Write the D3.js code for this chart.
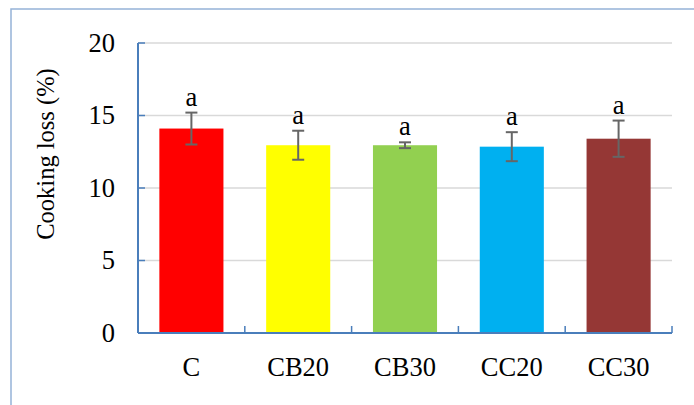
<!DOCTYPE html>
<html>
<head>
<meta charset="utf-8">
<script src="https://cdn.jsdelivr.net/npm/d3@7"></script>
<style>
  html, body { margin: 0; padding: 0; background: #fff; }
  svg { display: block; }
  text { font-family: "Liberation Serif", "DejaVu Serif", serif; fill: #000; }
</style>
</head>
<body>
<svg id="chart" width="694" height="405"></svg>
<script>
// Cooking loss per treatment (mean and standard deviation, %)
const categories = ["C", "CB20", "CB30", "CC20", "CC30"];
const values = [14.1, 12.95, 12.95, 12.85, 13.4];
const errors = [1.1, 1.0, 0.2, 1.0, 1.25];
const letters = ["a", "a", "a", "a", "a"];
const colors = ["#FF0000", "#FFFF00", "#92D050", "#00B0F0", "#953735"];
const yTicks = [0, 5, 10, 15, 20];
const yTitle = "Cooking loss (%)";

const svg = d3.select("#chart");
const plot = { left: 138, right: 672, top: 43, bottom: 333 };
const fontSize = 26.5, titleSize = 24.5;

// outer chart frame
svg.append("rect")
  .attr("x", 11).attr("y", 9).attr("width", 720).attr("height", 420)
  .attr("fill", "none").attr("stroke", "#95b3d7").attr("stroke-width", 1.5);

const xb = d3.scaleBand().domain(categories).range([plot.left, plot.right]);
const y = d3.scaleLinear().domain([0, 20]).range([plot.bottom, plot.top]);

// gridlines
svg.append("g").selectAll("line").data(yTicks.filter(t => t > 0)).join("line")
  .attr("x1", plot.left).attr("x2", plot.right)
  .attr("y1", d => y(d)).attr("y2", d => y(d))
  .attr("stroke", "#d9d9d9").attr("stroke-width", 1.5);

// bars
const bw = xb.bandwidth() * 0.6;
svg.append("g").selectAll("rect").data(categories).join("rect")
  .attr("x", (d) => xb(d) + (xb.bandwidth() - bw) / 2)
  .attr("width", bw)
  .attr("y", (d, i) => y(values[i]))
  .attr("height", (d, i) => y(0) - y(values[i]))
  .attr("fill", (d, i) => colors[i]);

// error bars
const eg = svg.append("g").attr("stroke", "#666").attr("stroke-width", 2);
categories.forEach((c, i) => {
  const cx = xb(c) + xb.bandwidth() / 2;
  const hi = y(values[i] + errors[i]), lo = y(values[i] - errors[i]);
  eg.append("line").attr("x1", cx).attr("x2", cx).attr("y1", hi).attr("y2", lo);
  eg.append("line").attr("x1", cx - 6).attr("x2", cx + 6).attr("y1", hi).attr("y2", hi);
  eg.append("line").attr("x1", cx - 6).attr("x2", cx + 6).attr("y1", lo).attr("y2", lo);
});

// significance letters
svg.append("g").selectAll("text").data(categories).join("text")
  .attr("x", d => xb(d) + xb.bandwidth() / 2)
  .attr("y", (d, i) => y(values[i] + errors[i]) - 7)
  .attr("text-anchor", "middle").style("font-size", fontSize + "px")
  .text((d, i) => letters[i]);

// y axis
svg.append("g").selectAll("line").data(yTicks).join("line")
  .attr("x1", plot.left).attr("x2", plot.left + 7)
  .attr("y1", d => y(d)).attr("y2", d => y(d))
  .attr("stroke", "#4a7ebb").attr("stroke-width", 1.5);
svg.append("line").attr("x1", plot.left).attr("x2", plot.left).attr("y1", plot.top).attr("y2", plot.bottom)
  .attr("stroke", "#4a7ebb").attr("stroke-width", 2);
svg.append("g").selectAll("text").data(yTicks).join("text")
  .attr("x", 115).attr("y", d => y(d))
  .attr("text-anchor", "end").attr("dy", "0.33em").style("font-size", fontSize + "px")
  .text(d => d);

// x axis
const boundaries = [plot.left].concat(categories.map(c => xb(c) + xb.bandwidth()));
svg.append("line").attr("x1", plot.left).attr("x2", plot.right).attr("y1", plot.bottom).attr("y2", plot.bottom)
  .attr("stroke", "#4a7ebb").attr("stroke-width", 2);
svg.append("g").selectAll("line").data(boundaries).join("line")
  .attr("x1", d => d).attr("x2", d => d).attr("y1", plot.bottom).attr("y2", plot.bottom - 7)
  .attr("stroke", "#4a7ebb").attr("stroke-width", 1.5);
svg.append("g").selectAll("text").data(categories).join("text")
  .attr("x", d => xb(d) + xb.bandwidth() / 2).attr("y", 376)
  .attr("text-anchor", "middle").style("font-size", fontSize + "px")
  .text(d => d);

// y axis title
svg.append("text")
  .attr("transform", "translate(54,154) rotate(-90)")
  .attr("text-anchor", "middle").style("font-size", titleSize + "px")
  .text(yTitle);
</script>
</body>
</html>
